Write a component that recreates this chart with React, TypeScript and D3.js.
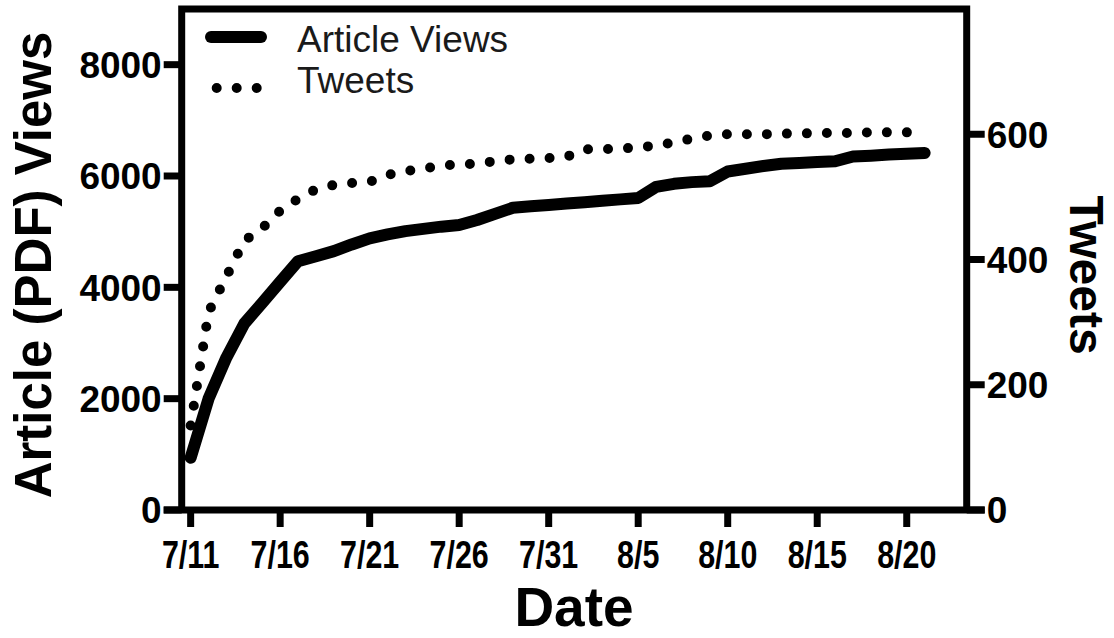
import * as d3 from "d3";
import React from "react";

// days since 7/11
const viewDays = d3.range(0, 42);
const articleViews = [
  940, 2000, 2740, 3350, 3720, 4100, 4470, 4560, 4650, 4770,
  4880, 4950, 5010, 5050, 5090, 5120, 5210, 5320, 5430, 5455,
  5480, 5505, 5530, 5555, 5580, 5605, 5805, 5860, 5890, 5905,
  6080, 6130, 6180, 6220, 6235, 6250, 6265, 6350, 6365, 6385,
  6400, 6415,
];
const tweetDays = d3.range(0, 42);
const tweets = [
  135, 316, 373, 430, 450, 478, 497, 512, 519, 522,
  524, 535, 541, 545, 550, 552, 553, 557, 560, 561,
  562, 564, 576, 576, 577, 579, 582, 587, 593, 598,
  600, 600, 600, 601, 601, 602, 602, 602, 603, 603,
  603, 603,
];

const xTickDays = [0, 5, 10, 15, 20, 25, 30, 35, 40];
const xTickLabels = ["7/11", "7/16", "7/21", "7/26", "7/31", "8/5", "8/10", "8/15", "8/20"];
const leftTicks = [0, 2000, 4000, 6000, 8000];
const rightTicks = [0, 200, 400, 600];

const font = "'Liberation Sans', Arial, sans-serif";

export default function App() {
  const left = 181.7,
    right = 966.7,
    top = 9,
    bottom = 510;

  const x = d3.scaleLinear().domain([-0.5, 43.35]).range([left, right]);
  const yL = d3.scaleLinear().domain([0, 9000]).range([bottom, top]);
  const yR = d3.scaleLinear().domain([0, 800]).range([bottom, top]);

  const viewsLine = d3
    .line<number>()
    .x((d, i) => x(viewDays[i]))
    .y((d) => yL(d));
  const tweetsLine = d3
    .line<number>()
    .x((d, i) => x(tweetDays[i]))
    .y((d) => yR(d));

  const tickLen = 18;

  return (
    <svg
      width={1114}
      height={638}
      style={{ position: "absolute", left: 0, top: 0, background: "#fff" }}
      fontFamily={font}
    >
      {/* data */}
      <path
        d={tweetsLine(tweets) ?? ""}
        fill="none"
        stroke="#000"
        strokeWidth={10}
        strokeLinecap="round"
        strokeDasharray="0 20"
      />
      <path
        d={viewsLine(articleViews) ?? ""}
        fill="none"
        stroke="#000"
        strokeWidth={12}
        strokeLinecap="round"
        strokeLinejoin="round"
      />

      {/* frame */}
      <path
        d={`M${left},${bottom}V${top}H${right}V${bottom}`}
        fill="none"
        stroke="#000"
        strokeWidth={7}
      />
      <line x1={left - tickLen} x2={right + tickLen} y1={bottom} y2={bottom} stroke="#000" strokeWidth={7} />

      {/* left axis */}
      {leftTicks.map((t) => (
        <g key={"l" + t}>
          <line x1={left - tickLen} x2={left} y1={yL(t)} y2={yL(t)} stroke="#000" strokeWidth={7} />
          <text
            x={left - tickLen - 2}
            y={yL(t)}
            dy="0.36em"
            textAnchor="end"
            fontSize={37}
            fontWeight="bold"
          >
            {t}
          </text>
        </g>
      ))}

      {/* right axis */}
      {rightTicks.map((t) => (
        <g key={"r" + t}>
          <line x1={right} x2={right + tickLen} y1={yR(t)} y2={yR(t)} stroke="#000" strokeWidth={7} />
          <text x={right + tickLen + 2} y={yR(t)} dy="0.36em" fontSize={37} fontWeight="bold">
            {t}
          </text>
        </g>
      ))}

      {/* bottom axis */}
      {xTickDays.map((d, i) => (
        <g key={"x" + d}>
          <line x1={x(d)} x2={x(d)} y1={bottom} y2={bottom + 17} stroke="#000" strokeWidth={7} />
          <text
            transform={`translate(${x(d)},568) scale(0.8,1)`}
            textAnchor="middle"
            fontSize={38}
            fontWeight="bold"
          >
            {xTickLabels[i]}
          </text>
        </g>
      ))}

      {/* axis titles */}
      <text
        transform="translate(51,265) rotate(-90)"
        textAnchor="middle"
        fontSize={51}
        fontWeight="bold"
      >
        Article (PDF) Views
      </text>
      <text
        transform="translate(1070,275) rotate(90)"
        textAnchor="middle"
        fontSize={48}
        fontWeight="bold"
      >
        Tweets
      </text>
      <text x={574} y={626} textAnchor="middle" fontSize={55} fontWeight="bold">
        Date
      </text>

      {/* legend */}
      <line x1={211} x2={261} y1={37} y2={37} stroke="#000" strokeWidth={12} strokeLinecap="round" />
      <line
        x1={216.7}
        x2={257}
        y1={88}
        y2={88}
        stroke="#000"
        strokeWidth={10}
        strokeLinecap="round"
        strokeDasharray="0 20"
      />
      <text x={297} y={52} fontSize={37} fill="#1a1a1a">
        Article Views
      </text>
      <text x={297} y={93} fontSize={37} fill="#1a1a1a">
        Tweets
      </text>
    </svg>
  );
}
